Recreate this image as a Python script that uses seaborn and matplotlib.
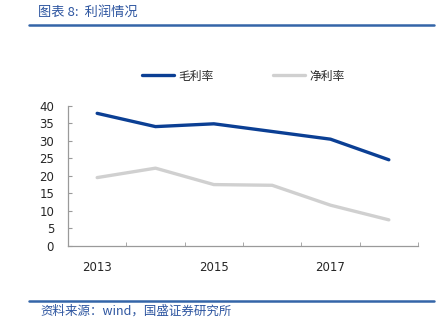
import matplotlib
matplotlib.use("Agg")
import matplotlib.pyplot as plt
import seaborn as sns
import pandas as pd
from matplotlib.ticker import FixedLocator
from matplotlib.lines import Line2D

years = ["2013", "2014", "2015", "2016", "2017", "2018"]
gross_margin = [37.9, 34.1, 34.9, 32.7, 30.5, 24.6]
net_margin = [19.5, 22.2, 17.5, 17.3, 11.6, 7.4]
series_names = ["毛利率", "净利率"]
y_ticks = [0, 5, 10, 15, 20, 25, 30, 35, 40]
x_label_years = ["2013", "2015", "2017"]

sns.set_style("white")
plt.rcParams["font.family"] = ["Noto Sans CJK SC", "DejaVu Sans"]

df = pd.DataFrame({
    "idx": list(range(len(years))) * 2,
    "value": gross_margin + net_margin,
    "series": [series_names[0]] * len(years) + [series_names[1]] * len(years),
})

fig = plt.figure(figsize=(4.41, 3.30), dpi=100)
ax = fig.add_axes([68 / 441, 1 - 245.7 / 330, 350 / 441, (245.7 - 106) / 330])

palette = {series_names[0]: "#0b3f94", series_names[1]: "#d0d0d0"}
sns.lineplot(data=df, x="idx", y="value", hue="series", palette=palette,
             linewidth=2.4, ax=ax, legend=False)

ax.set_xlim(-0.5, len(years) - 0.5)
ax.set_ylim(0, 40)
ax.set_xlabel("")
ax.set_ylabel("")

for s in ["top", "right"]:
    ax.spines[s].set_visible(False)
for s in ["left", "bottom"]:
    ax.spines[s].set_color("#9a9a9a")
    ax.spines[s].set_linewidth(0.9)

ax.set_yticks(y_ticks)
ax.set_yticklabels([str(v) for v in y_ticks], fontsize=8.5, family="DejaVu Sans")
ax.tick_params(axis="y", direction="in", length=3, color="#9a9a9a", pad=10, left=True)

pos = [years.index(y) for y in x_label_years]
ax.set_xticks(pos)
ax.set_xticklabels(x_label_years, fontsize=8.5, family="DejaVu Sans")
ax.tick_params(axis="x", which="major", length=0, pad=11, bottom=True)
ax.xaxis.set_minor_locator(FixedLocator([i - 0.5 for i in range(len(years) + 1)]))
ax.tick_params(axis="x", which="minor", direction="in", length=3, color="#9a9a9a", bottom=True)
ax.grid(False)

handles = [Line2D([], [], color=palette[n], linewidth=2.4) for n in series_names]
fig.legend(handles, series_names, loc="center", bbox_to_anchor=(0.552, 1 - 76 / 330),
           ncol=2, frameon=False, fontsize=8.5, handlelength=2.7, handletextpad=0.4,
           columnspacing=5.0)

# header and footer
fig.add_artist(Line2D([29 / 441, 434 / 441], [1 - 25 / 330, 1 - 25 / 330],
                      color="#3465a8", linewidth=1.8, transform=fig.transFigure))
fig.add_artist(Line2D([29 / 441, 434 / 441], [1 - 301 / 330, 1 - 301 / 330],
                      color="#3465a8", linewidth=1.8, transform=fig.transFigure))
fig.text(38 / 441, 1 - 12 / 330, "图表 8:  利润情况", fontsize=9.5, color="#2d55a0",
         va="center", ha="left")
fig.text(40 / 441, 1 - 311 / 330, "资料来源：wind，国盛证券研究所", fontsize=9,
         color="#2d55a0", va="center", ha="left")

fig.savefig("out.png", dpi=100)
